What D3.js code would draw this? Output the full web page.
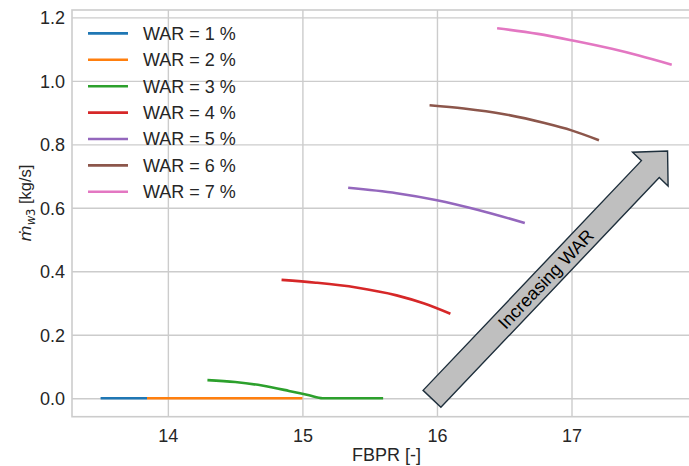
<!DOCTYPE html>
<html>
<head>
<meta charset="utf-8">
<script src="https://cdn.jsdelivr.net/npm/d3@7"></script>
<style>
  body { margin: 0; background: #fff; }
  svg { display: block; font-family: 'Liberation Sans', Arial, sans-serif; }
  .tick text { fill: #262626; font-size: 18px; }
  .tick line { stroke: #cccccc; stroke-width: 1.4; }
</style>
</head>
<body>
<svg id="chart" width="689" height="466"></svg>
<script>
// WAR levels and their curves, [FBPR, mdot_w3]
var warLevels = [1, 2, 3, 4, 5, 6, 7]
var warColors = ['#1f77b4', '#ff7f0e', '#2ca02c', '#d62728', '#9467bd', '#8c564b', '#e377c2']
var war1 = [[13.5, 0], [13.845, 0]]
var war2 = [[13.845, 0], [15.0, 0]]
var war3 = [[14.294, 0.057], [14.5, 0.051], [14.7, 0.040], [14.9, 0.023], [15.05, 0.009], [15.15, 0.0], [15.6, 0.0]]
var war4 = [[14.845, 0.373], [15.1, 0.364], [15.4, 0.349], [15.7, 0.324], [15.9, 0.299], [16.1, 0.266]]
var war5 = [[15.34, 0.663], [15.7, 0.646], [16.0, 0.624], [16.3, 0.594], [16.653, 0.552]]
var war6 = [[15.945, 0.923], [16.2, 0.913], [16.5, 0.895], [16.8, 0.867], [17.0, 0.844], [17.204, 0.813]]
var war7 = [[16.447, 1.166], [16.75, 1.148], [17.0, 1.128], [17.3, 1.101], [17.5, 1.080], [17.745, 1.051]]
var series = [war1, war2, war3, war4, war5, war6, war7]

var fbprTicks = [14, 15, 16, 17]
var mdotTicks = [0.0, 0.2, 0.4, 0.6, 0.8, 1.0, 1.2]

// annotation arrow, tail and tip in data units
var arrowTail = [15.963, -0.002]
var arrowTip = [17.714, 0.779]

var svg = d3.select('#chart')
var margin = { left: 72, top: 10, right: 701, bottom: 416.7 }

var x = d3.scaleLinear().domain([13.2875, 17.9625]).range([margin.left, margin.right])
var y = d3.scaleLinear().domain([-0.0583, 1.2233]).range([margin.bottom, margin.top])

// grid + tick labels
svg.append('g')
  .attr('transform', `translate(0,${margin.bottom})`)
  .call(d3.axisBottom(x).tickValues(fbprTicks).tickFormat(d3.format('d'))
    .tickSize(-(margin.bottom - margin.top)).tickPadding(8))
  .call((g) => g.select('.domain').remove())
  .call((g) => g.selectAll('text').attr('dy', '0.95em'))

svg.append('g')
  .attr('transform', `translate(${margin.left},0)`)
  .call(d3.axisLeft(y).tickValues(mdotTicks).tickFormat(d3.format('.1f'))
    .tickSize(-(margin.right - margin.left)).tickPadding(7))
  .call((g) => g.select('.domain').remove())
  .call((g) => g.selectAll('text').attr('dy', '0.36em'))

// frame
svg.append('rect')
  .attr('x', margin.left).attr('y', margin.top)
  .attr('width', margin.right - margin.left).attr('height', margin.bottom - margin.top)
  .attr('fill', 'none').attr('stroke', '#cccccc').attr('stroke-width', 1.6)

var line = d3.line()
  .x((d) => x(d[0]))
  .y((d) => y(d[1]))
  .curve(d3.curveMonotoneX)

svg.append('g').selectAll('path')
  .data(series)
  .enter()
  .append('path')
  .attr('d', line)
  .attr('fill', 'none')
  .attr('stroke', (d, i) => warColors[i])
  .attr('stroke-width', 2.6)
  .attr('stroke-linecap', 'butt')

// arrow
var t0 = [x(arrowTail[0]), y(arrowTail[1])]
var t1 = [x(arrowTip[0]), y(arrowTip[1])]
var len = Math.hypot(t1[0] - t0[0], t1[1] - t0[1])
var ang = Math.atan2(t1[1] - t0[1], t1[0] - t0[0]) * 180 / Math.PI
var shaftW = 12.3, headW = 24.5, headL = 25
var arrowPts = [[0, -shaftW], [len - headL, -shaftW], [len - headL, -headW], [len, 0],
  [len - headL, headW], [len - headL, shaftW], [0, shaftW]]

var arrow = svg.append('g')
  .attr('transform', `translate(${t0[0]},${t0[1]}) rotate(${ang})`)

arrow.append('polygon')
  .attr('points', arrowPts.map((p) => p.join(',')).join(' '))
  .attr('fill', '#bfbfbf')
  .attr('stroke', '#1e2f3c')
  .attr('stroke-width', 1.4)
  .attr('stroke-linejoin', 'miter')

arrow.append('text')
  .attr('x', len * 0.483)
  .attr('y', 0)
  .attr('dy', '0.35em')
  .attr('text-anchor', 'middle')
  .attr('font-size', 18)
  .attr('fill', '#000')
  .text('Increasing WAR')

// legend
var legend = svg.append('g').selectAll('g')
  .data(warLevels)
  .enter()
  .append('g')
  .attr('transform', (d, i) => `translate(88,${33.4 + i * 26.4})`)

legend.append('line')
  .attr('x1', 0).attr('x2', 40)
  .attr('stroke', (d, i) => warColors[i])
  .attr('stroke-width', 2.6)

legend.append('text')
  .attr('x', 55)
  .attr('dy', '0.36em')
  .attr('font-size', 18)
  .attr('fill', '#262626')
  .text((d) => `WAR = ${d} %`)

// axis labels
svg.append('text')
  .attr('x', 386.5).attr('y', 461)
  .attr('text-anchor', 'middle')
  .attr('font-size', 18)
  .attr('fill', '#262626')
  .text('FBPR [-]')

var ylab = svg.append('text')
  .attr('transform', 'translate(31,203) rotate(-90)')
  .attr('text-anchor', 'middle')
  .attr('font-size', 16.5)
  .attr('fill', '#262626')
ylab.append('tspan').attr('font-family', 'DejaVu Sans').attr('font-style', 'italic').text('ṁ')
ylab.append('tspan').attr('font-family', 'DejaVu Sans').attr('font-style', 'italic')
  .attr('font-size', 11.5).attr('dy', 3.5).text('w')
ylab.append('tspan').attr('font-family', 'DejaVu Sans').attr('font-size', 11.5).text('3')
ylab.append('tspan').attr('dy', -3.5).text(' [kg/s]')
</script>
</body>
</html>
